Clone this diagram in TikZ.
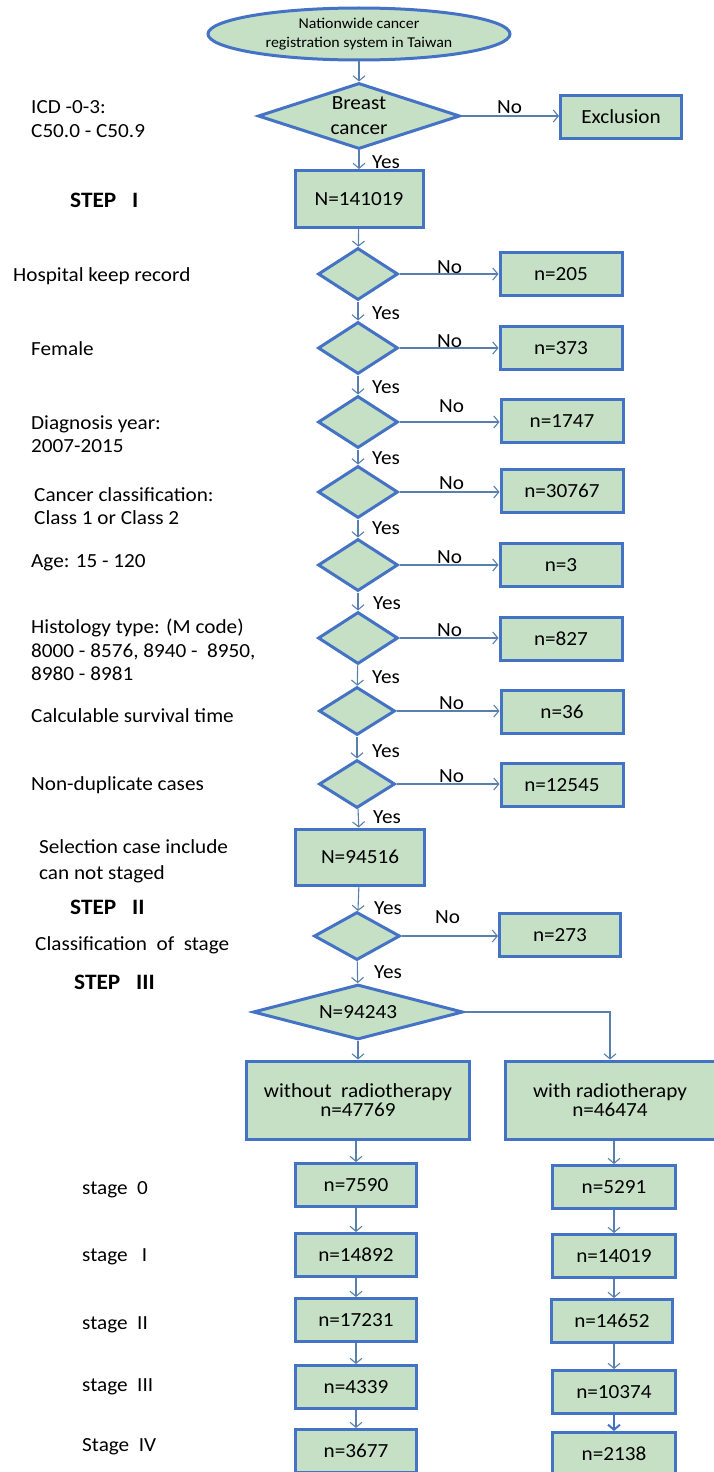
\documentclass[tikz,border=0pt]{standalone}
\usepackage{fontspec}
\setmainfont{Carlito}[FakeStretch=1.06]
\usetikzlibrary{shapes.geometric,arrows.meta}
\definecolor{boxfill}{RGB}{197,224,196}
\definecolor{boxline}{RGB}{68,114,196}
\definecolor{conn}{RGB}{88,128,172}
\begin{document}
\begin{tikzpicture}[x=1pt,y=-1pt,
  every node/.style={font=\fontsize{20}{24}\selectfont, inner sep=0pt},
  box/.style={draw=boxline, line width=3pt, fill=boxfill, minimum width=122pt, minimum height=43pt, align=center},
  dec/.style={diamond, draw=boxline, line width=3pt, fill=boxfill, minimum width=80pt, minimum height=52pt, aspect=1.5},
  lbl/.style={anchor=west, align=left},
  steplbl/.style={anchor=west, font=\fontsize{22}{26}\selectfont\bfseries},
  yn/.style={anchor=west},
  conn/.style={draw=conn, line width=1.1pt, -{Straight Barb[length=5pt,width=12pt]}}
]
\useasboundingbox (0,0) rectangle (714,1472);

% top
\node[ellipse, draw=boxline, line width=3pt, fill=boxfill, minimum width=302pt, minimum height=52pt, align=center,
  font=\fontsize{15}{19}\selectfont] (ell) at (359,34) {Nationwide cancer\\registration system in Taiwan};
\node[diamond, draw=boxline, line width=3pt, fill=boxfill, aspect=3.0, minimum width=202pt, minimum height=66pt,
  align=center, font=\fontsize{20}{25}\selectfont] (d1) at (359,116) {Breast\\cancer};
\node[box, minimum width=121pt] (excl) at (621,117) {Exclusion};
\node[box, minimum width=128pt, minimum height=57pt] (n1) at (359,199) {N=141019};
\node[yn] (no1) at (497,107) {No};
\node[yn] (ye1) at (372,162) {Yes};
\draw[conn] (ell) -- (d1);
\draw[conn] (d1.east) -- (d1.east -| excl.west);
\draw[conn] (d1) -- (n1);

\node[lbl, font=\fontsize{20}{24}\selectfont] (icd) at (31,119) {ICD -0-3:\\C50.0 - C50.9};
\node[steplbl] (st1) at (70,200) {STEP\ \ \ I};

% filter diamonds
\node[dec] (d2) at (358,274) {};
\node[dec] (d3) at (358,348) {};
\node[dec] (d4) at (358,422) {};
\node[dec] (d5) at (358,492) {};
\node[dec] (d6) at (358,565) {};
\node[dec] (d7) at (358,638) {};
\node[dec, minimum width=76pt, minimum height=48pt] (d8) at (357,711) {};
\node[dec, minimum width=76pt, minimum height=48pt] (d9) at (357,784) {};

\node[box] (e2) at (561,274) {n=205};
\node[box] (e3) at (561,348) {n=373};
\node[box] (e4) at (562,421) {n=1747};
\node[box] (e5) at (562,491) {n=30767};
\node[box] (e6) at (561,565) {n=3};
\node[box] (e7) at (561,639) {n=827};
\node[box] (e8) at (562,712) {n=36};
\node[box] (e9) at (562,785) {n=12545};

\foreach \i in {2,...,9} {\draw[conn] (d\i.east) -- (d\i.east -| e\i.west);}
\draw[conn] (n1) -- (d2);
\draw[conn] (d2) -- (d3);
\draw[conn] (d3) -- (d4);
\draw[conn] (d4) -- (d5);
\draw[conn] (d5) -- (d6);
\draw[conn] (d6) -- (d7);
\draw[conn] (d7) -- (d8);
\draw[conn] (d8) -- (d9);

\node[yn] (no2) at (437,267) {No};
\node[yn] (no3) at (437,341) {No};
\node[yn] (no4) at (439,406) {No};
\node[yn] (no5) at (439,483) {No};
\node[yn] (no6) at (437,557) {No};
\node[yn] (no7) at (437,630) {No};
\node[yn] (no8) at (439,703) {No};
\node[yn] (no9) at (439,776) {No};
\node[yn] (ye2) at (372,313) {Yes};
\node[yn] (ye3) at (372,387) {Yes};
\node[yn] (ye4) at (372,458) {Yes};
\node[yn] (ye5) at (372,528) {Yes};
\node[yn] (ye6) at (373,603) {Yes};
\node[yn] (ye7) at (372,677) {Yes};
\node[yn] (ye8) at (372,751) {Yes};
\node[yn] (ye9) at (373,817) {Yes};

\node[lbl] (l2) at (13,276) {Hospital keep\ record};
\node[lbl] (l3) at (31,349) {Female};
\node[lbl, font=\fontsize{20}{22.5}\selectfont] (l4) at (31,434) {Diagnosis year:\\2007-2015};
\node[lbl, font=\fontsize{20}{23}\selectfont] (l5) at (34,506) {Cancer classification:\\Class 1 or Class 2};
\node[lbl] (l6) at (31,563) {Age: 15 - 120};
\node[lbl, font=\fontsize{20}{23.5}\selectfont] (l7) at (31,650) {Histology type: (M code)\\8000 - 8576, 8940 -\ \ 8950,\\8980 - 8981};
\node[lbl] (l8) at (31,716) {Calculable survival time};
\node[lbl] (l9) at (31,785) {Non-duplicate cases};

% step II
\node[box, minimum width=129pt, minimum height=56pt] (n2) at (360,857) {N=94516};
\draw[conn] (d9) -- (n2);
\node[lbl, font=\fontsize{20}{26}\selectfont] (sel) at (39,861) {Selection case include\\can not staged};
\node[steplbl] (st2) at (70,907) {STEP\ \ \ II};
\node[dec, minimum width=86pt, minimum height=48pt] (d10) at (357,936) {};
\node[box, minimum width=121pt] (e10) at (560,935) {n=273};
\draw[conn] (n2) -- (d10);
\draw[conn] (d10.east) -- (d10.east -| e10.west);
\node[yn] (ye10) at (374,908) {Yes};
\node[yn] (no10) at (435,917) {No};
\node[lbl] (cls) at (35,945) {Classification\ \ of\ \ stage};
\node[steplbl] (st3) at (74,982) {STEP\ \ \ III};
\node[yn] (ye11) at (374,972) {Yes};

% step III
\node[diamond, draw=boxline, line width=3pt, fill=boxfill, aspect=3.9, minimum width=210pt, minimum height=55pt] (d11) at (358,1012) {N=94243};
\draw[conn] (d10) -- (d11);
\node[box, minimum width=223pt, minimum height=78pt, font=\fontsize{20}{19.5}\selectfont] (wo) at (358,1100) {without\ \ radiotherapy\\n=47769};
\node[box, minimum width=210pt, minimum height=78pt, font=\fontsize{20}{19.5}\selectfont] (wi) at (610,1100) {with radiotherapy\\n=46474};
\draw[conn] (d11) -- (wo);
\draw[conn] (d11.east) -| (wi.north);

% stages
\node[box, minimum width=121pt] (a0) at (356,1185) {n=7590};
\node[box, minimum width=121pt] (a1) at (356,1255) {n=14892};
\node[box, minimum width=121pt] (a2) at (356,1320) {n=17231};
\node[box, minimum width=121pt] (a3) at (356,1387) {n=4339};
\node[box, minimum width=121pt] (a4) at (356,1451) {n=3677};
\node[box, minimum width=123pt] (b0) at (614,1187) {n=5291};
\node[box, minimum width=123pt] (b1) at (614,1256) {n=14019};
\node[box, minimum width=121pt] (b2) at (612,1321) {n=14652};
\node[box, minimum width=123pt] (b3) at (614,1392) {n=10374};
\node[box, minimum width=123pt] (b4) at (614,1454) {n=2138};
\draw[conn] (wo.south -| a0.north) -- (a0.north);
\draw[conn] (wi.south -| b0.north) -- (b0.north);
\draw[conn] (a0) -- (a1);
\draw[conn] (a1) -- (a2);
\draw[conn] (a2) -- (a3);
\draw[conn] (a3) -- (a4);
\draw[conn] (b0) -- (b1);
\draw[conn] (b1) -- (b2.north -| b1.south);
\draw[conn] (b2.south -| b1.south) -- (b3);
\draw[conn, draw=boxline, line width=2pt] (b3) -- (b4);

\node[lbl] (s0) at (82,1190) {stage\ \ 0};
\node[lbl] (s1) at (82,1257) {stage\ \ \ I};
\node[lbl] (s2) at (82,1325) {stage\ \ II};
\node[lbl] (s3) at (82,1387) {stage\ \ III};
\node[lbl] (s4) at (82,1447) {Stage\ \ IV};
\end{tikzpicture}
\end{document}
